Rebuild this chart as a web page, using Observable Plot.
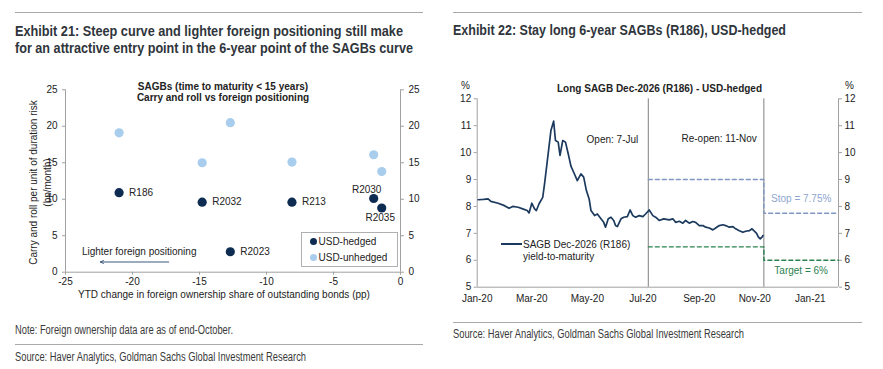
<!DOCTYPE html>
<html><head><meta charset="utf-8">
<script src="https://cdn.jsdelivr.net/npm/d3@7"></script>
<script src="https://cdn.jsdelivr.net/npm/@observablehq/plot@0.6"></script>
<style>
body{margin:0;width:883px;height:369px;position:relative;background:#fff;overflow:hidden;font-family:"Liberation Sans",Arial,sans-serif;color:#222;}
.abs{position:absolute;white-space:nowrap;}
.title{font-weight:bold;font-size:14.5px;line-height:17px;color:#2f353b;}
.foot{font-size:12.5px;line-height:13px;color:#3a3a3a;}
.rule{position:absolute;height:1px;background:#a9a9a9;}
.lbl{font-size:10px;line-height:12px;}
.chart{position:absolute;}
</style></head>
<body>
<script>
// ---------- Exhibit 21 data ----------
const bonds = ["R186", "R2032", "R213", "R2023", "R2030", "R2035"];
const foreignChange = [-21.0, -14.8, -8.1, -12.7, -2.0, -1.4];      // pp, YTD
const carryHedged = [10.9, 9.6, 9.6, 2.8, 10.1, 8.8];                // bp/month
const carryUnhedged = [19.1, 15.0, 15.1, 20.5, 16.1, 13.8];          // bp/month
const seriesNames = ["USD-hedged", "USD-unhedged"];
const xTicksLeft = [-25, -20, -15, -10, -5, 0];
const yTicksLeft = [0, 5, 10, 15, 20, 25];
const arrowText = "Lighter foreign positioning";
const arrowFromTo = [-17.3, -22.4];
const arrowLevel = 1.4;
const arrowTextAt = [-19.5, 2.85];

// ---------- Exhibit 22 data ----------
const yieldDates = ["2020-01-02","2020-01-08","2020-01-13","2020-01-16","2020-01-24","2020-01-31","2020-02-05","2020-02-09","2020-02-15","2020-02-20","2020-02-25","2020-02-27","2020-03-01","2020-03-04","2020-03-06","2020-03-09","2020-03-13","2020-03-15","2020-03-19","2020-03-22","2020-03-25","2020-03-27","2020-03-30","2020-04-01","2020-04-04","2020-04-07","2020-04-10","2020-04-13","2020-04-16","2020-04-20","2020-04-24","2020-04-27","2020-04-30","2020-05-03","2020-05-05","2020-05-09","2020-05-12","2020-05-16","2020-05-19","2020-05-21","2020-05-24","2020-05-27","2020-05-30","2020-06-01","2020-06-03","2020-06-07","2020-06-10","2020-06-14","2020-06-17","2020-06-20","2020-06-23","2020-06-27","2020-07-01","2020-07-04","2020-07-08","2020-07-12","2020-07-15","2020-07-19","2020-07-24","2020-07-30","2020-08-03","2020-08-06","2020-08-10","2020-08-14","2020-08-17","2020-08-21","2020-08-25","2020-08-28","2020-09-01","2020-09-05","2020-09-08","2020-09-12","2020-09-16","2020-09-19","2020-09-23","2020-09-27","2020-09-30","2020-10-04","2020-10-08","2020-10-11","2020-10-15","2020-10-19","2020-10-22","2020-10-26","2020-10-29","2020-10-31","2020-11-03","2020-11-05","2020-11-07","2020-11-09","2020-11-10"];
const yieldValues = [8.25,8.26,8.28,8.19,8.12,8.03,7.93,8.00,7.97,7.91,7.85,7.76,8.12,7.91,7.85,8.10,8.34,8.84,9.96,10.82,11.17,10.45,10.39,9.90,10.45,10.39,9.96,9.50,9.27,8.96,9.21,9.09,8.59,8.28,7.85,7.66,7.72,7.54,7.41,7.23,7.54,7.60,7.48,7.29,7.25,7.54,7.60,7.62,7.87,7.66,7.60,7.66,7.62,7.72,7.87,7.66,7.60,7.48,7.54,7.50,7.54,7.41,7.45,7.38,7.48,7.38,7.44,7.41,7.29,7.29,7.23,7.20,7.13,7.20,7.29,7.32,7.29,7.23,7.25,7.17,7.10,7.04,7.08,7.10,7.17,7.10,7.00,6.86,6.80,6.86,6.92];
const tradeOpen = "2020-07-07";
const tradeReopen = "2020-11-11";
const xDomainRight = ["2020-01-01", "2021-02-01"];
const stopLevels = [9, 7.75];
const targetLevels = [6.5, 6];
const xTicksRight = ["2020-01-01","2020-03-01","2020-05-01","2020-07-01","2020-09-01","2020-11-01","2021-01-01"];
const yTicksRight = [5, 6, 7, 8, 9, 10, 11, 12];

// ---------- helpers ----------
function div(cls, html, css) {
  const d = document.createElement("div");
  d.className = "abs " + cls;
  d.innerHTML = html;
  Object.assign(d.style, css);
  document.body.appendChild(d);
  return d;
}
function fitText(cls, text, left, top, width) {
  const d = div(cls, text, {left: left + "px", top: top + "px"});
  const w = d.getBoundingClientRect().width;
  d.style.transformOrigin = "0 50%";
  d.style.transform = `scaleX(${width / w})`;
  return d;
}
function rule(x1, x2, y) {
  const d = document.createElement("div");
  d.className = "rule";
  Object.assign(d.style, {left: x1 + "px", width: (x2 - x1) + "px", top: y + "px"});
  document.body.appendChild(d);
}
const dark = "#0e2c52", light = "#a9cdec";
const axisGray = "#a0a0a0";
const font = "'Liberation Sans', Arial, sans-serif";
const fmtN = d => String(d);

// ---------- frame text ----------
rule(15, 423, 12);
rule(453, 862, 12);
fitText("title", "Exhibit 21: Steep curve and lighter foreign positioning still make", 15, 22.5, 388);
fitText("title", "for an attractive entry point in the 6-year point of the SAGBs curve", 15, 39.5, 398);
fitText("title", "Exhibit 22: Stay long 6-year SAGBs (R186), USD-hedged", 453, 22, 333);
fitText("foot", "Note: Foreign ownership data are as of end-October.", 15, 323.5, 218);
rule(15, 423, 344);
fitText("foot", "Source: Haver Analytics, Goldman Sachs Global Investment Research", 15, 351, 291);
rule(453, 862, 321.5);
fitText("foot", "Source: Haver Analytics, Goldman Sachs Global Investment Research", 453, 328, 291);

// ---------- Exhibit 21 chart ----------
const pts = bonds.map((b, i) => ({bond: b, x: foreignChange[i], hedged: carryHedged[i], unhedged: carryUnhedged[i]}));
const labelPlacement = {R186: "right", R2032: "right", R213: "right", R2023: "right", R2030: "above", R2035: "below"};
const leftChart = Plot.plot({
  width: 430, height: 225,
  marginLeft: 65, marginRight: 30, marginTop: 11.3, marginBottom: 31.3,
  x: {domain: [xTicksLeft[0], xTicksLeft[xTicksLeft.length - 1]]},
  y: {domain: [yTicksLeft[0], yTicksLeft[yTicksLeft.length - 1]]},
  style: {fontFamily: font, fontSize: "10px", color: "#222", background: "transparent", overflow: "visible"},
  marks: [
    Plot.ruleX([xTicksLeft[0], xTicksLeft[xTicksLeft.length - 1]], {stroke: axisGray}),
    Plot.ruleY([yTicksLeft[0]], {stroke: axisGray}),
    Plot.axisY({anchor: "left", ticks: yTicksLeft, tickSize: 3, tickPadding: 5, tickFormat: fmtN, label: null, stroke: axisGray}),
    Plot.axisY({anchor: "right", ticks: yTicksLeft, tickSize: 3, tickPadding: 5, tickFormat: fmtN, label: null, stroke: axisGray}),
    Plot.axisX({ticks: xTicksLeft, tickSize: 3, tickPadding: 3, tickFormat: fmtN, label: null, stroke: axisGray}),
    Plot.dot(pts, {x: "x", y: "unhedged", r: 4.6, fill: light}),
    Plot.dot(pts, {x: "x", y: "hedged", r: 4.6, fill: dark}),
    Plot.text(pts.filter(d => labelPlacement[d.bond] === "right"), {x: "x", y: "hedged", text: "bond", textAnchor: "start", dx: 10, fill: "#222"}),
    Plot.text(pts.filter(d => labelPlacement[d.bond] === "above"), {x: "x", y: "hedged", text: "bond", dx: -7, dy: -9, fill: "#222"}),
    Plot.text(pts.filter(d => labelPlacement[d.bond] === "below"), {x: "x", y: "hedged", text: "bond", dx: -1.5, dy: 9.5, fill: "#222"}),
    Plot.arrow([{x1: arrowFromTo[0], x2: arrowFromTo[1], y: arrowLevel}], {x1: "x1", x2: "x2", y1: "y", y2: "y", stroke: "#3b5a7a", strokeWidth: 1, headLength: 5, headAngle: 50}),
    Plot.text([{x: arrowTextAt[0], y: arrowTextAt[1]}], {x: "x", y: "y", text: () => arrowText, fill: "#222"})
  ]
});
leftChart.classList.add("chart");
Object.assign(leftChart.style, {left: "0px", top: "78px"});
document.body.appendChild(leftChart);

div("lbl", "<b>SAGBs (time to maturity &lt; 15 years)<br>Carry and roll vs foreign positioning</b>", {left: "123px", width: "200px", textAlign: "center", top: "80.5px", lineHeight: "11.5px"});
div("lbl", "Carry and roll per unit of duration risk<br>(bp/month)", {left: "-60px", width: "200px", textAlign: "center", top: "168.5px", lineHeight: "13.5px", transform: "rotate(-90deg)", transformOrigin: "100px 13.5px"});
div("lbl", "YTD change in foreign ownership share of outstanding bonds (pp)", {left: "24px", width: "400px", textAlign: "center", top: "288.5px"});
// legend
const lg = div("lbl", "", {left: "300.5px", top: "231.5px", width: "95px", height: "33px", border: "1px solid #b0b0b0", background: "#fff"});
seriesNames.forEach((s, i) => {
  const row = document.createElement("div");
  row.style.cssText = `position:absolute;left:8px;top:${3 + i * 16.6}px;line-height:12px;white-space:nowrap;`;
  row.innerHTML = `<span style="display:inline-block;width:7px;height:7px;border-radius:50%;background:${i === 0 ? dark : light};margin-right:2px;vertical-align:0px"></span>${s}`;
  lg.appendChild(row);
});

// ---------- Exhibit 22 chart ----------
const P = d3.utcParse("%Y-%m-%d");
const yieldData = yieldDates.map((d, i) => ({date: P(d), value: yieldValues[i]}));
const xEnd = P(xDomainRight[1]);
const tOpen = P(tradeOpen), tRe = P(tradeReopen);
const stopPath = [{d: tOpen, v: stopLevels[0]}, {d: tRe, v: stopLevels[0]}, {d: tRe, v: stopLevels[1]}, {d: xEnd, v: stopLevels[1]}];
const targetPath = [{d: tOpen, v: targetLevels[0]}, {d: tRe, v: targetLevels[0]}, {d: tRe, v: targetLevels[1]}, {d: xEnd, v: targetLevels[1]}];
const stopColor = "#8196c2", targetColor = "#2b8150";
const mid = new Date((tRe.getTime() + xEnd.getTime()) / 2);
const rightChart = Plot.plot({
  width: 443, height: 225,
  marginLeft: 36.7, marginRight: 45, marginTop: 18.3, marginBottom: 18.3,
  x: {type: "utc", domain: xDomainRight.map(P)},
  y: {domain: [yTicksRight[0], yTicksRight[yTicksRight.length - 1]]},
  style: {fontFamily: font, fontSize: "10px", color: "#222", background: "transparent", overflow: "visible"},
  marks: [
    Plot.ruleX(xDomainRight.map(P), {stroke: axisGray}),
    Plot.ruleY([yTicksRight[0]], {stroke: axisGray}),
    Plot.axisY({anchor: "left", ticks: yTicksRight, tickSize: 3, tickPadding: 3, tickFormat: fmtN, label: null, stroke: axisGray}),
    Plot.axisY({anchor: "right", ticks: yTicksRight, tickSize: 3, tickPadding: 3, tickFormat: fmtN, label: null, stroke: axisGray}),
    Plot.axisX({ticks: xTicksRight.map(P), tickSize: 0, tickPadding: 8, tickFormat: d3.utcFormat("%b-%y"), label: null}),
    Plot.ruleX([tOpen, tRe], {stroke: "#808080", strokeWidth: 1}),
    Plot.line(stopPath, {x: "d", y: "v", stroke: stopColor, strokeWidth: 1.4, strokeDasharray: "4,3"}),
    Plot.line(targetPath, {x: "d", y: "v", stroke: targetColor, strokeWidth: 1.4, strokeDasharray: "4,3"}),
    Plot.line(yieldData, {x: "date", y: "value", stroke: "#1b3a5e", strokeWidth: 1.7}),
    Plot.text([tOpen], {x: d => d, frameAnchor: "top", dy: 37.5, dx: -10, textAnchor: "end", text: () => "Open: 7-Jul", fill: "#222"}),
    Plot.text([tRe], {x: d => d, frameAnchor: "top", dy: 36, dx: -7, textAnchor: "end", text: () => "Re-open: 11-Nov", fill: "#222"}),
    Plot.text([mid], {x: d => d, y: () => stopLevels[1], dy: -14, text: () => "Stop = 7.75%", fill: "#8ea5cf"}),
    Plot.text([mid], {x: d => d, y: () => targetLevels[1], dy: 11, text: () => "Target = 6%", fill: targetColor})
  ]
});
rightChart.classList.add("chart");
Object.assign(rightChart.style, {left: "440px", top: "80px"});
document.body.appendChild(rightChart);

div("lbl", "<b>Long SAGB Dec-2026 (R186) - USD-hedged</b>", {left: "557px", width: "200px", textAlign: "center", top: "83px"});
div("lbl", "%", {left: "461px", top: "80px"});
div("lbl", "%", {left: "845px", top: "80px"});
div("lbl", `<span style="display:inline-block;width:21px;height:2px;background:#1b3a5e;vertical-align:3px;margin-right:1px"></span>SAGB Dec-2026 (R186)<br><span style="display:inline-block;width:22px"></span>yield-to-maturity`, {left: "501px", top: "239px", lineHeight: "12px"});
</script>
</body></html>
